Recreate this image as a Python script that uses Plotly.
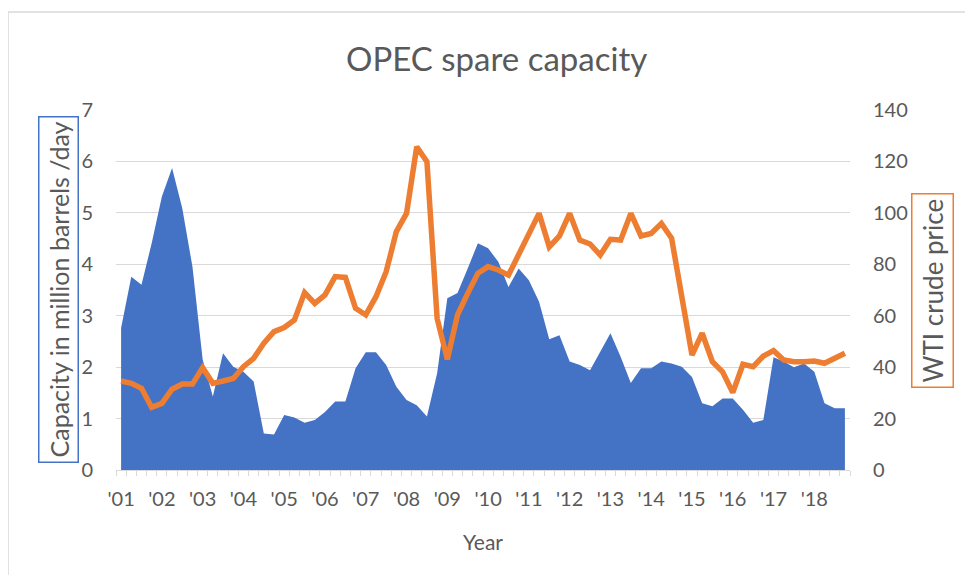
import plotly.graph_objects as go

# quarterly values, Q1 2001 .. Q4 2018
spare_capacity = [
    2.76, 3.76, 3.60, 4.41, 5.32, 5.87, 5.09, 3.95,
    2.15, 1.43, 2.27, 2.01, 1.91, 1.72, 0.71, 0.69,
    1.07, 1.02, 0.92, 0.97, 1.13, 1.33, 1.33, 1.98,
    2.29, 2.29, 2.04, 1.62, 1.36, 1.26, 1.04, 1.88,
    3.34, 3.44, 3.92, 4.41, 4.31, 4.05, 3.56, 3.92,
    3.69, 3.27, 2.54, 2.62, 2.11, 2.04, 1.94, 2.30,
    2.66, 2.20, 1.69, 1.98, 1.98, 2.11, 2.07, 2.01,
    1.81, 1.30, 1.24, 1.39, 1.39, 1.17, 0.92, 0.97,
    2.19, 2.11, 2.00, 2.07, 1.91, 1.30, 1.20, 1.20,
]
wti_price = [
    34.6, 33.7, 31.8, 24.4, 25.9, 31.4, 33.4, 33.4,
    39.8, 33.7, 34.6, 35.6, 40.2, 43.4, 49.3, 53.8,
    55.4, 58.3, 69.0, 64.8, 68.1, 75.2, 74.9, 62.9,
    60.3, 67.4, 77.1, 92.7, 99.8, 125.7, 119.9, 59.0,
    43.0, 60.3, 68.7, 76.5, 79.1, 77.8, 75.8, 83.6,
    91.8, 99.8, 86.8, 91.0, 99.8, 89.4, 87.9, 83.6,
    89.7, 89.4, 99.8, 91.0, 92.0, 95.9, 90.1, 67.4,
    44.7, 53.2, 42.1, 38.2, 30.1, 41.1, 40.2, 44.3,
    46.4, 42.8, 42.1, 42.1, 42.4, 41.5, 43.4, 45.4,
]
year_labels = ["'01", "'02", "'03", "'04", "'05", "'06", "'07", "'08", "'09",
               "'10", "'11", "'12", "'13", "'14", "'15", "'16", "'17", "'18"]

quarters = list(range(len(spare_capacity)))
label_positions = quarters[::4]

FONT = "Lato, 'Open Sans', sans-serif"
GREY = "#595959"
GRID = "#D9D9D9"
BLUE = "#4472C4"
ORANGE = "#ED7D31"

# page body has an 8px margin, so the figure sits at (8, 8)
W, H = 957, 567
PL, PR, PT, PB = 108, 842, 102, 462   # plot box in figure pixels
PW, PH = PR - PL, PB - PT


def px(x):
    return (x - 8 - PL) / PW


def py(y):
    return (PB - (y - 8)) / PH


fig = go.Figure()
fig.add_trace(
    go.Scatter(
        x=quarters,
        y=spare_capacity,
        mode="lines",
        fill="tozeroy",
        fillcolor=BLUE,
        line={"width": 0, "color": BLUE},
        name="OPEC spare capacity",
    )
)
fig.add_trace(
    go.Scatter(
        x=quarters,
        y=wti_price,
        mode="lines",
        line={"width": 5.5, "color": ORANGE},
        yaxis="y2",
        name="WTI crude price",
    )
)

fig.update_layout(
    width=W,
    height=H,
    margin={"l": PL, "r": W - PR, "t": PT, "b": H - PB},
    paper_bgcolor="white",
    plot_bgcolor="white",
    showlegend=False,
    font={"family": FONT, "color": GREY, "size": 20},
    xaxis={
        "range": [-0.5, 71.5],
        "tickvals": label_positions,
        "ticktext": year_labels,
        "ticks": "",
        "showgrid": False,
        "zeroline": False,
        "showline": True,
        "linecolor": GRID,
        "linewidth": 1.3,
        "minor": {"tick0": -0.5, "dtick": 1, "ticks": "outside", "ticklen": 5, "tickcolor": GRID, "showgrid": False},
        "tickfont": {"size": 20, "color": GREY},
        "ticklabelstandoff": 11,
    },
    yaxis={
        "range": [0, 7],
        "dtick": 1,
        "showgrid": True,
        "gridcolor": GRID,
        "gridwidth": 1.3,
        "zeroline": False,
        "tickfont": {"size": 20, "color": GREY},
        "ticklabelstandoff": 22,
    },
    yaxis2={
        "range": [0, 140],
        "dtick": 20,
        "overlaying": "y",
        "side": "right",
        "showgrid": False,
        "zeroline": False,
        "tickfont": {"size": 20, "color": GREY},
        "ticklabelstandoff": 22,
    },
)

# chart area border (only top and left edges visible in the crop)
fig.add_shape(type="rect", xref="paper", yref="paper",
              x0=px(8), x1=1.5, y0=-0.6, y1=py(12),
              line={"color": GRID, "width": 1.5}, layer="below")

fig.add_annotation(text="OPEC spare capacity", xref="paper", yref="paper",
                   x=px(496), y=py(58), showarrow=False,
                   font={"size": 33, "color": GREY}, xanchor="center", yanchor="middle")
fig.add_annotation(text="Year", xref="paper", yref="paper",
                   x=px(483), y=py(541), showarrow=False,
                   font={"size": 21, "color": GREY}, xanchor="center", yanchor="middle")
fig.add_annotation(text="Capacity in million barrels /day", xref="paper", yref="paper",
                   x=px(58), y=py(290), showarrow=False, textangle=-90,
                   font={"size": 25, "color": GREY}, xanchor="center", yanchor="middle",
                   bordercolor=BLUE, borderwidth=1.5, borderpad=4)
fig.add_annotation(text="WTI crude price", xref="paper", yref="paper",
                   x=px(932), y=py(291), showarrow=False, textangle=-90,
                   font={"size": 26, "color": GREY}, xanchor="center", yanchor="middle",
                   bordercolor=ORANGE, borderwidth=1.5, borderpad=4)

fig.write_html("out.html")
